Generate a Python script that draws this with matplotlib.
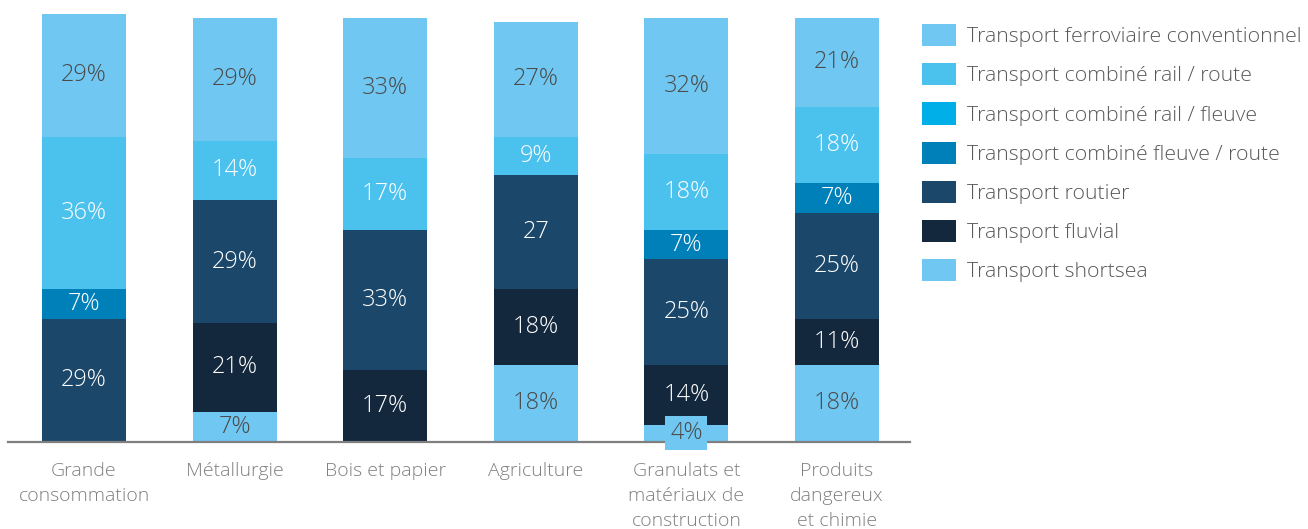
import matplotlib
matplotlib.use("Agg")
import matplotlib.pyplot as plt
from matplotlib.patches import Patch
import numpy as np

categories = ["Grande\nconsommation", "Métallurgie", "Bois et papier", "Agriculture",
              "Granulats et\nmatériaux de\nconstruction", "Produits\ndangereux\net chimie"]

series_names = ["Transport ferroviaire conventionnel", "Transport combiné rail / route",
                "Transport combiné rail / fleuve", "Transport combiné fleuve / route",
                "Transport routier", "Transport fluvial", "Transport shortsea"]

shortsea   = [0, 7, 0, 18, 4, 18]
fluvial    = [0, 21, 17, 18, 14, 11]
routier    = [29, 29, 33, 27, 25, 25]
fleuve_route = [7, 0, 0, 0, 7, 7]
rail_fleuve  = [0, 0, 0, 0, 0, 0]
rail_route   = [36, 14, 17, 9, 18, 18]
ferroviaire  = [29, 29, 33, 27, 32, 21]

routier_labels = ["29%", "29%", "33%", "27", "25%", "25%"]

colors = {
    "ferroviaire": "#70C8F2",
    "rail_route": "#4BC1EE",
    "rail_fleuve": "#00AEE8",
    "fleuve_route": "#0080B9",
    "routier": "#1A476A",
    "fluvial": "#13273D",
    "shortsea": "#70C8F2",
}

plt.rcParams['font.family'] = ['Open Sans', 'DejaVu Sans']
W, H = 1308, 529
fig = plt.figure(figsize=(W/100, H/100), dpi=100)

base_px = 441.5
px_per_unit = 4.235
left_px, right_px = 8, 910
ax = fig.add_axes([left_px/W, (H-base_px)/H, (right_px-left_px)/W, base_px/H])
ax.set_ylim(0, base_px/px_per_unit)
spacing = 150.6
ax.set_xlim(-(84-left_px)/spacing, (right_px-84)/spacing)

x = np.arange(len(categories))
width = 84/spacing
dark_txt = "#4A4A4A"
fs = 17

stack = [
    ("shortsea", shortsea, dark_txt, None),
    ("fluvial", fluvial, "white", None),
    ("routier", routier, "white", routier_labels),
    ("fleuve_route", fleuve_route, "white", None),
    ("rail_fleuve", rail_fleuve, "white", None),
    ("rail_route", rail_route, "white", None),
    ("ferroviaire", ferroviaire, dark_txt, None),
]

bottom = np.zeros(len(categories))
for key, vals, tc, labs in stack:
    vals = np.array(vals, dtype=float)
    ax.bar(x, vals, width, bottom=bottom, color=colors[key], edgecolor="none")
    for i, v in enumerate(vals):
        if v > 0:
            lab = labs[i] if labs else f"{int(v)}%"
            kw = {}
            if key == "shortsea" and v < 6:
                kw["bbox"] = dict(boxstyle="square,pad=0.2", fc=colors[key], ec="none")
            ax.text(x[i], bottom[i] + v/2, lab, ha="center", va="center",
                    color=tc, fontsize=fs, fontweight="light", zorder=5, **kw)
    bottom += vals

for s in ["top", "left", "right"]:
    ax.spines[s].set_visible(False)
ax.spines["bottom"].set_color("#7F7F7F")
ax.spines["bottom"].set_linewidth(1.6)
ax.spines["bottom"].set_zorder(4)
ax.set_yticks([])
ax.set_xticks(x)
ax.set_xticklabels(categories, fontsize=14, color="#808080", fontweight="light",
                   linespacing=1.48)
ax.tick_params(axis="x", length=0, pad=15)
ax.patch.set_visible(False)

legend_keys = ["ferroviaire", "rail_route", "rail_fleuve", "fleuve_route", "routier", "fluvial", "shortsea"]
handles = [Patch(facecolor=colors[k], edgecolor="none") for k in legend_keys]
lfs = 15.3
fpx = lfs * 100 / 72
leg = fig.legend(handles, series_names, loc="upper left",
                 bbox_to_anchor=(922/W, 1 - 24/H), frameon=False,
                 fontsize=lfs, handlelength=34/fpx, handleheight=26/fpx,
                 handletextpad=11/fpx, labelspacing=16/fpx, borderpad=0, borderaxespad=0)
for t in leg.get_texts():
    t.set_color("#595959")
    t.set_fontweight("light")

fig.savefig("out.png", dpi=100, facecolor="white")
